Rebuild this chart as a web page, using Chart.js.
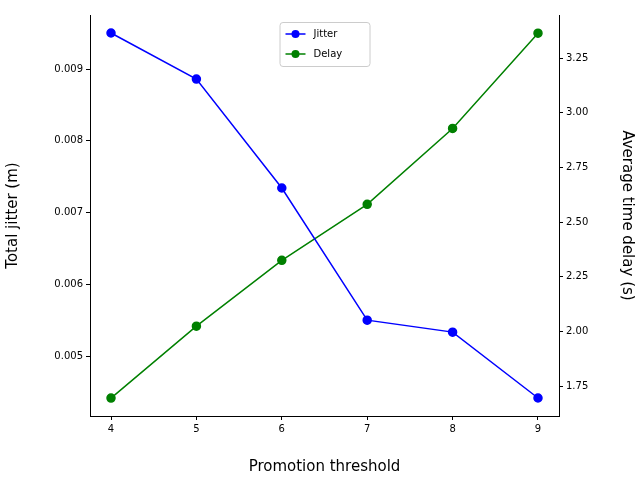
<!DOCTYPE html>
<html><head><meta charset="utf-8">
<script src="https://cdn.jsdelivr.net/npm/chart.js@4"></script>
<style>body{margin:0;background:#fff}#wrap{width:640px;height:480px}</style>
</head><body><div id="wrap"><canvas id="myChart" width="640" height="480"></canvas></div>
<script>
var thresholds = [4, 5, 6, 7, 8, 9];
var jitter = [0.009502, 0.00886, 0.007342, 0.0055, 0.005333, 0.004415];
var delay = [1.695, 2.024, 2.325, 2.581, 2.928, 3.364];

Chart.defaults.font.family = "'DejaVu Sans', sans-serif";
Chart.defaults.color = '#000';

// legend drawn inside the plot, top centre
var innerLegend = {
    id: 'innerLegend',
    afterDraw: function (chart) {
        var c = chart.ctx, a = chart.chartArea;
        var w = 90, h = 44, x = (a.left + a.right) / 2 - w / 2, y = a.top + 7;
        c.save();
        c.fillStyle = 'rgba(255,255,255,0.8)';
        c.strokeStyle = '#ccc';
        c.lineWidth = 1;
        c.beginPath(); c.roundRect(x + 0.5, y + 0.5, w, h, 3); c.fill(); c.stroke();
        c.font = "10px 'DejaVu Sans', sans-serif";
        c.textBaseline = 'middle';
        chart.data.datasets.forEach(function (ds, i) {
            var yy = y + 12 + i * 20;
            c.strokeStyle = ds.borderColor; c.lineWidth = 1.5;
            c.beginPath(); c.moveTo(x + 6, yy); c.lineTo(x + 26, yy); c.stroke();
            c.fillStyle = ds.borderColor;
            c.beginPath(); c.arc(x + 16, yy, 4, 0, Math.PI * 2); c.fill();
            c.fillStyle = '#000';
            c.fillText(ds.label, x + 34, yy);
        });
        c.restore();
    }
};

var ctx = document.getElementById('myChart').getContext('2d');
new Chart(ctx, {
    type: 'line',
    data: {
        datasets: [{
            label: 'Jitter',
            data: thresholds.map(function (t, i) { return {x: t, y: jitter[i]}; }),
            borderColor: 'blue', backgroundColor: 'blue',
            borderWidth: 1.5, pointRadius: 4, pointHoverRadius: 4, yAxisID: 'y'
        }, {
            label: 'Delay',
            data: thresholds.map(function (t, i) { return {x: t, y: delay[i]}; }),
            borderColor: 'green', backgroundColor: 'green',
            borderWidth: 1.5, pointRadius: 4, pointHoverRadius: 4, yAxisID: 'y1'
        }]
    },
    options: {
        responsive: false, animation: false, devicePixelRatio: 1,
        layout: {padding: {top: 15}},
        plugins: {legend: {display: false}, tooltip: {enabled: false}},
        scales: {
            x: {
                type: 'linear', min: 3.754, max: 9.246,
                afterBuildTicks: function (s) { s.ticks = thresholds.map(function (v) { return {value: v}; }); },
                ticks: {font: {size: 10}},
                grid: {drawOnChartArea: false, tickLength: 4, color: '#000'},
                border: {color: '#000'},
                title: {display: true, text: 'Promotion threshold', font: {size: 15}, padding: 4},
                afterFit: function (s) { s.height = 64; }
            },
            y: {
                position: 'left', min: 0.004164, max: 0.009753,
                afterBuildTicks: function (s) { s.ticks = [0.005, 0.006, 0.007, 0.008, 0.009].map(function (v) { return {value: v}; }); },
                ticks: {font: {size: 10}, callback: function (v) { return v.toFixed(3); }},
                grid: {drawOnChartArea: false, tickLength: 4, color: '#000'},
                border: {color: '#000'},
                title: {display: true, text: 'Total jitter (m)', font: {size: 15}},
                afterFit: function (s) { s.width = 90; }
            },
            y1: {
                position: 'right', min: 1.613, max: 3.447,
                afterBuildTicks: function (s) { s.ticks = [1.75, 2.0, 2.25, 2.5, 2.75, 3.0, 3.25].map(function (v) { return {value: v}; }); },
                ticks: {font: {size: 10}, callback: function (v) { return v.toFixed(2); }},
                grid: {drawOnChartArea: false, tickLength: 4, color: '#000'},
                border: {color: '#000'},
                title: {display: true, text: 'Average time delay (s)', font: {size: 15}},
                afterFit: function (s) { s.width = 81; }
            }
        }
    },
    plugins: [innerLegend]
});
</script>
</body></html>
